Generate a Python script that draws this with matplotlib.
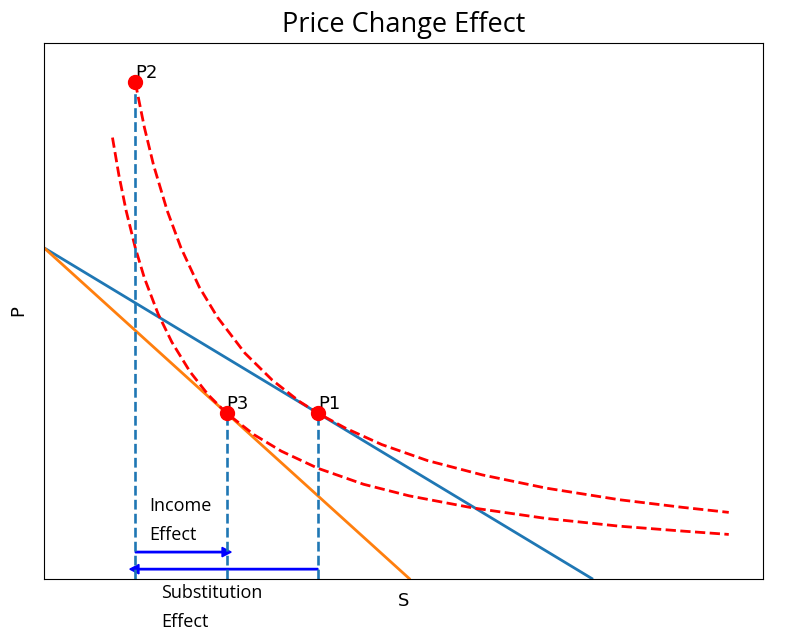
import matplotlib
matplotlib.use("Agg")
import matplotlib.pyplot as plt

# budget lines (x, y end points)
budget_old_x = [0, 6]
budget_old_y = [6, 0]
budget_new_x = [0, 4]
budget_new_y = [6, 0]

# indifference curves
curve_high_x = [1.0, 1.1, 1.2, 1.35, 1.5, 1.7, 1.9, 2.2, 2.5, 2.8, 3.0, 3.3,
                3.7, 4.2, 4.8, 5.5, 6.3, 7.0, 7.5]
curve_high_y = [9.0, 8.18, 7.5, 6.67, 6.0, 5.29, 4.74, 4.09, 3.6, 3.21, 3.0, 2.73,
                2.43, 2.14, 1.88, 1.64, 1.43, 1.29, 1.2]
curve_low_x = [0.75, 0.82, 0.9, 1.0, 1.1, 1.25, 1.4, 1.6, 1.8, 2.0, 2.3, 2.6,
               3.0, 3.5, 4.0, 4.7, 5.5, 6.3, 7.0, 7.5]
curve_low_y = [8.0, 7.32, 6.67, 6.0, 5.45, 4.8, 4.29, 3.75, 3.33, 3.0, 2.61, 2.31,
               2.0, 1.71, 1.5, 1.28, 1.09, 0.95, 0.86, 0.8]

# equilibrium points
point_names = ["P1", "P2", "P3"]
point_x = [3, 1, 2]
point_y = [3, 9, 3]

# effect arrows: (start x, end x, height)
income_arrow = (1, 2.05, 0.48)
subst_arrow = (3, 0.94, 0.17)

label_font = ["Open Sans", "DejaVu Sans"]

fig = plt.figure(figsize=(8, 6.37), dpi=100)
ax = fig.add_axes([0.055, 0.0918, 0.89875, 0.8402])

ax.plot(budget_old_x, budget_old_y, color="tab:blue", linewidth=2)
ax.plot(budget_new_x, budget_new_y, color="tab:orange", linewidth=2)
ax.plot(curve_high_x, curve_high_y, "r--", linewidth=2)
ax.plot(curve_low_x, curve_low_y, "r--", linewidth=2)

for name, px, py in zip(point_names, point_x, point_y):
    ax.plot([px, px], [0, py], "--", color="tab:blue", linewidth=1.9)
    ax.scatter(px, py, s=100, color="red", zorder=5)
    ax.text(px, py, name, fontsize=13, va="bottom")

for x0, x1, yy in (income_arrow, subst_arrow):
    ax.arrow(x0, yy, x1 - x0, 0, width=0.025, head_width=0.17, head_length=0.1,
             length_includes_head=True, color="blue", linewidth=1)

ax.text(1.15, 0.7, "Income\nEffect", fontsize=13, family=label_font,
        linespacing=1.8, va="baseline")
ax.text(1.28, -0.88, "Substitution\nEffect", fontsize=13, family=label_font,
        linespacing=1.8, va="baseline")

ax.set_xlim(0, 7.875)
ax.set_ylim(0, 9.71)
ax.set_xticks([])
ax.set_yticks([])
ax.set_xlabel("S", fontsize=13, labelpad=10)
ax.set_ylabel("P", fontsize=13, labelpad=12)
ax.set_title("Price Change Effect", fontsize=19.5, family=label_font, pad=8)

fig.savefig("out.png", dpi=100)
